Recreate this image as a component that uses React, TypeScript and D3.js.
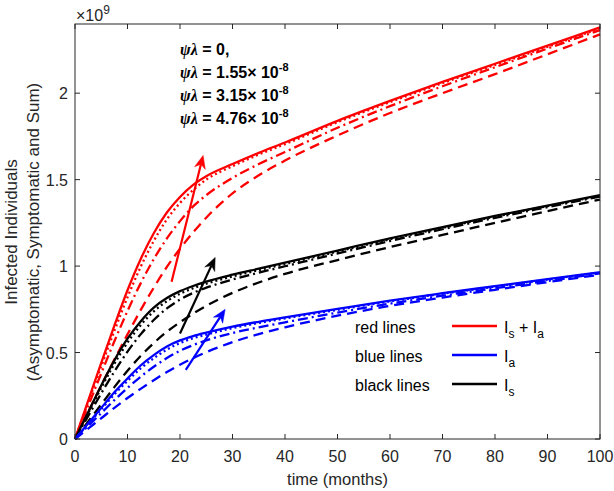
import React from "react";
import * as d3 from "d3";

const T = [0, 2.5, 5, 7.5, 10, 12.5, 15, 17.5, 20, 22.5, 25, 30, 35, 40, 50, 60, 70, 80, 90, 100];

// Red: Is + Ia (values in units of 1e9)
const redSolid = [0, 0.22, 0.44, 0.655, 0.86, 1.04, 1.19, 1.31, 1.4, 1.47, 1.52, 1.59, 1.655, 1.715, 1.84, 1.955, 2.065, 2.17, 2.275, 2.38];
const redDotted = [0, 0.21, 0.42, 0.625, 0.82, 0.995, 1.145, 1.27, 1.365, 1.44, 1.5, 1.578, 1.645, 1.705, 1.832, 1.948, 2.058, 2.163, 2.268, 2.375];
const redDashDot = [0, 0.19, 0.38, 0.565, 0.74, 0.9, 1.04, 1.16, 1.26, 1.345, 1.41, 1.51, 1.59, 1.66, 1.8, 1.925, 2.04, 2.15, 2.258, 2.365];
const redDashed = [0, 0.155, 0.31, 0.46, 0.605, 0.745, 0.875, 0.995, 1.1, 1.195, 1.28, 1.42, 1.525, 1.61, 1.755, 1.885, 2.0, 2.11, 2.225, 2.34];

// Black: Is
const blackSolid = [0, 0.155, 0.31, 0.455, 0.58, 0.68, 0.76, 0.815, 0.855, 0.885, 0.91, 0.95, 0.985, 1.02, 1.09, 1.16, 1.225, 1.29, 1.35, 1.41];
const blackDotted = [0, 0.148, 0.296, 0.435, 0.558, 0.658, 0.738, 0.797, 0.84, 0.872, 0.898, 0.94, 0.977, 1.012, 1.084, 1.155, 1.221, 1.286, 1.347, 1.407];
const blackDashDot = [0, 0.132, 0.264, 0.39, 0.505, 0.605, 0.688, 0.755, 0.806, 0.845, 0.875, 0.922, 0.962, 0.999, 1.073, 1.145, 1.213, 1.279, 1.341, 1.402];
const blackDashed = [0, 0.1, 0.2, 0.3, 0.395, 0.48, 0.555, 0.62, 0.675, 0.725, 0.77, 0.845, 0.905, 0.955, 1.035, 1.11, 1.18, 1.25, 1.318, 1.385];

// Blue: Ia
const blueSolid = [0, 0.09, 0.18, 0.27, 0.35, 0.425, 0.485, 0.535, 0.57, 0.595, 0.615, 0.65, 0.678, 0.703, 0.752, 0.8, 0.843, 0.884, 0.925, 0.965];
const blueDotted = [0, 0.086, 0.172, 0.258, 0.336, 0.408, 0.467, 0.517, 0.555, 0.583, 0.604, 0.641, 0.671, 0.697, 0.747, 0.796, 0.84, 0.881, 0.922, 0.962];
const blueDashDot = [0, 0.075, 0.15, 0.225, 0.295, 0.36, 0.418, 0.468, 0.51, 0.543, 0.57, 0.613, 0.646, 0.675, 0.731, 0.783, 0.829, 0.872, 0.914, 0.958];
const blueDashed = [0, 0.06, 0.12, 0.18, 0.237, 0.29, 0.34, 0.387, 0.43, 0.468, 0.502, 0.56, 0.607, 0.646, 0.713, 0.77, 0.818, 0.863, 0.907, 0.95];

const xTicks = [0, 10, 20, 30, 40, 50, 60, 70, 80, 90, 100];
const yTicks = [0, 0.5, 1, 1.5, 2];
const yTickLabels = ["0", "0.5", "1", "1.5", "2"];

const annotations = ["0,", "1.55", "3.15", "4.76"];

// arrows: [t0, v0, t1, v1]
const arrowRed = [18.4, 0.91, 24.4, 1.64];
const arrowBlack = [20, 0.61, 26.7, 1.05];
const arrowBlue = [21.1, 0.4, 28.6, 0.75];

const legendNames = ["red lines", "blue lines", "black lines"];

const W = 614;
const H = 491;
const M = { left: 75, right: 600, top: 24, bottom: 439 };
const FONT = "'Liberation Sans', Arial, Helvetica, sans-serif";
const AX = "#262626";

const RED = "#ff0000";
const BLUE = "#0000ff";
const BLACK = "#000000";

const styles = [
  { dash: undefined },
  { dash: "2,3" },
  { dash: "10,4,2,4" },
  { dash: "10,6" },
];

export default function App() {
  const x = d3.scaleLinear().domain([0, 100]).range([M.left, M.right]);
  const y = d3.scaleLinear().domain([0, 2.4]).range([M.bottom, M.top]);
  const line = d3
    .line<number>()
    .x((_, i) => x(T[i]))
    .y((d) => y(d))
    .curve(d3.curveMonotoneX);

  const groups = [
    { color: RED, data: [redSolid, redDotted, redDashDot, redDashed] },
    { color: BLACK, data: [blackSolid, blackDotted, blackDashDot, blackDashed] },
    { color: BLUE, data: [blueSolid, blueDotted, blueDashDot, blueDashed] },
  ];

  const arrow = (a: number[], color: string, key: string) => {
    const x0 = x(a[0]), y0 = y(a[1]), x1 = x(a[2]), y1 = y(a[3]);
    const ang = Math.atan2(y1 - y0, x1 - x0);
    const L = 13, Wd = 5.5, back = 9;
    const ca = Math.cos(ang), sa = Math.sin(ang);
    const p = (dx: number, dy: number) => [x1 + dx * ca - dy * sa, y1 + dx * sa + dy * ca];
    const pts = [p(0, 0), p(-L, Wd), p(-back, 0), p(-L, -Wd)];
    const bx = p(-back, 0);
    return (
      <g key={key}>
        <line x1={x0} y1={y0} x2={bx[0]} y2={bx[1]} stroke={color} strokeWidth={2.2} />
        <polygon points={pts.map((q) => q.join(",")).join(" ")} fill={color} stroke={color} strokeWidth={0.5} />
      </g>
    );
  };

  const annotBase = [55, 78, 101, 124];

  return (
    <svg width={W} height={H} style={{ position: "absolute", left: 0, top: 0, background: "#fff" }} fontFamily={FONT}>
      <rect x={0} y={0} width={W} height={H} fill="#fff" />
      {/* curves */}
      {groups.map((g, gi) =>
        g.data.map((d, si) => (
          <path
            key={`c${gi}-${si}`}
            d={line(d) || ""}
            fill="none"
            stroke={g.color}
            strokeWidth={2.3}
            strokeDasharray={styles[si].dash}
          />
        ))
      )}
      {/* arrows */}
      {arrow(arrowRed, RED, "ar")}
      {arrow(arrowBlack, BLACK, "ak")}
      {arrow(arrowBlue, BLUE, "ab")}

      {/* axes box */}
      <rect x={M.left} y={M.top} width={M.right - M.left} height={M.bottom - M.top} fill="none" stroke={AX} strokeWidth={1} />
      {xTicks.map((t) => (
        <g key={`xt${t}`}>
          <line x1={x(t)} x2={x(t)} y1={M.bottom} y2={M.bottom - 5} stroke={AX} />
          <line x1={x(t)} x2={x(t)} y1={M.top} y2={M.top + 5} stroke={AX} />
          <text x={x(t)} y={M.bottom + 23} textAnchor="middle" fontSize={16} fill={AX}>
            {t}
          </text>
        </g>
      ))}
      {yTicks.map((v, i) => (
        <g key={`yt${v}`}>
          <line x1={M.left} x2={M.left + 5} y1={y(v)} y2={y(v)} stroke={AX} />
          <line x1={M.right} x2={M.right - 5} y1={y(v)} y2={y(v)} stroke={AX} />
          <text x={M.left - 7} y={y(v) + 6} textAnchor="end" fontSize={16} fill={AX}>
            {yTickLabels[i]}
          </text>
        </g>
      ))}
      {/* exponent */}
      <text x={76} y={21} fontSize={16} fill={AX}>
        ×10
        <tspan dy={-7} fontSize={12}>9</tspan>
      </text>

      {/* axis labels */}
      <text x={337.5} y={485} textAnchor="middle" fontSize={16.5} fill={AX}>
        time (months)
      </text>
      <text transform={`translate(17,232) rotate(-90)`} textAnchor="middle" fontSize={17} fill={AX}>
        Infected Individuals
      </text>
      <text transform={`translate(38.5,232) rotate(-90)`} textAnchor="middle" fontSize={17} fill={AX}>
        (Asymptomatic, Symptomatic and Sum)
      </text>

      {/* annotation */}
      {annotations.map((a, i) => (
        <text key={`an${i}`} x={180} y={annotBase[i]} fontSize={16} fontWeight="bold" fill="#000">
          <tspan fontStyle="italic" fontFamily="'Liberation Serif', 'DejaVu Serif', serif">ψλ</tspan>
          <tspan>{` = ${a}`}</tspan>
          {i > 0 ? (
            <>
              <tspan>{"×  10"}</tspan>
              <tspan dy={-7} fontSize={11}>-8</tspan>
            </>
          ) : null}
        </text>
      ))}

      {/* legend */}
      {legendNames.map((n, i) => {
        const base = [333, 362, 391][i];
        const ly = [326, 355, 384][i];
        const col = [RED, BLUE, BLACK][i];
        return (
          <g key={`lg${i}`}>
            <text x={355} y={base} fontSize={16} fill="#000">
              {n}
            </text>
            <line x1={452} x2={497} y1={ly} y2={ly} stroke={col} strokeWidth={2.3} />
          </g>
        );
      })}
      <text x={504} y={333} fontSize={16} fill="#000">
        I<tspan dy={5} fontSize={12}>s</tspan>
        <tspan dy={-5}>{" + "}</tspan>
        <tspan>{" I"}</tspan>
        <tspan dy={5} fontSize={12}>a</tspan>
      </text>
      <text x={504} y={362} fontSize={16} fill="#000">
        I<tspan dy={5} fontSize={12}>a</tspan>
      </text>
      <text x={504} y={391} fontSize={16} fill="#000">
        I<tspan dy={5} fontSize={12}>s</tspan>
      </text>
    </svg>
  );
}
